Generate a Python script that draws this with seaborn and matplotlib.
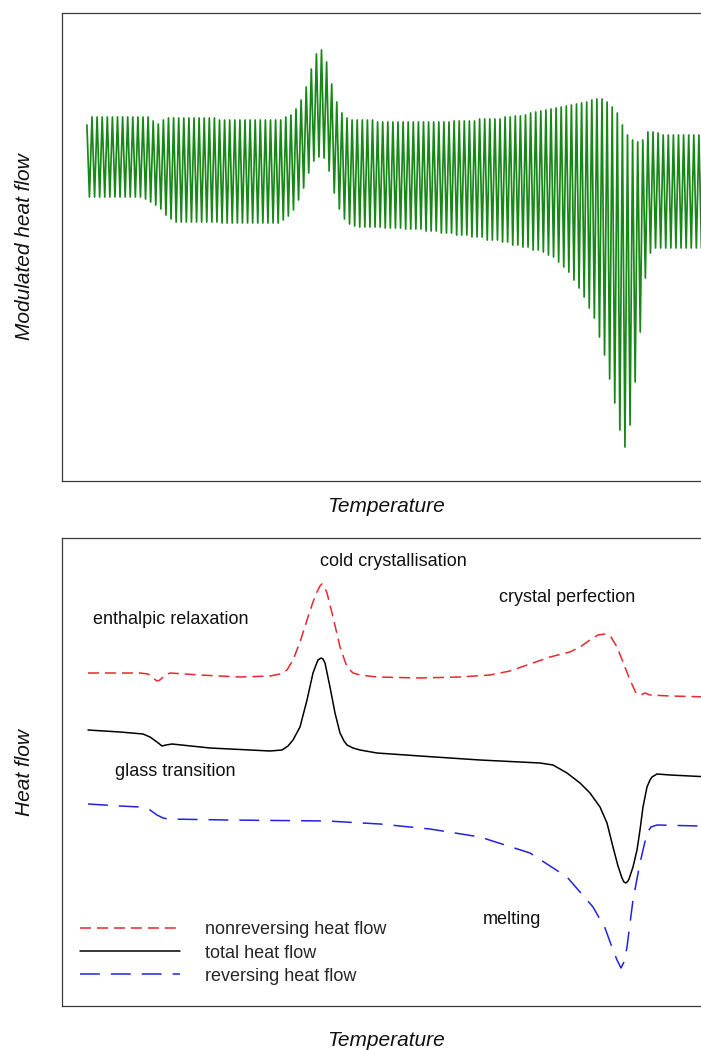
import numpy as np
import pandas as pd
import matplotlib
matplotlib.use("Agg")
import matplotlib.pyplot as plt
import seaborn as sns

# ---------------------------------------------------------------------------
# Modulated DSC signal: one peak and one trough value per modulation cycle
# (arbitrary heat-flow units), starting at T0 with a fixed modulation period.
# ---------------------------------------------------------------------------
T0 = 92.0          # temperature of the first modulation maximum
PERIOD = 5.1       # temperature advance per modulation cycle

lead_in_flow = [356, 284]  # partial first stroke before the first maximum

peak_flow = [
    364, 364, 364, 364, 364, 364, 364, 364, 364, 364, 364, 364,
    360, 357, 361,
    363, 363, 363, 363, 363, 363, 363, 363, 363, 363,
    361, 361, 361, 361, 361, 361, 361, 361, 361, 361, 361, 361, 361,
    364, 366, 372, 381, 394, 412, 427, 431, 419, 397, 379, 368, 363,
    361, 361, 361, 361, 361,
    359, 359, 359, 359, 359, 359, 359, 359, 359, 359, 359, 359, 359, 359, 359,
    360, 360, 360, 360, 360,
    362, 362, 362, 362, 362,
    364, 364, 365, 365, 366, 368, 369,
    370, 371, 372, 373, 374, 375, 376, 377, 378, 379, 381, 382,
    382, 379, 374, 368, 356, 346, 341, 339, 341, 349, 349, 348,
    346, 346, 346, 346, 346, 346, 346, 346,
]

trough_flow = [
    284, 284, 284, 284, 284, 284, 284, 284, 284, 284,
    282, 279, 276, 272, 266, 262,
    259, 259, 259, 259, 259, 259, 259, 259, 259,
    258, 258, 258, 258, 258, 258, 258, 258, 258, 258, 258, 258,
    261, 265, 271, 281, 293, 308, 320, 324, 323, 310, 288, 272, 262, 257, 255,
    254, 254, 254, 254, 254,
    253, 253, 253, 253,
    252, 252, 252, 252,
    250, 250, 250,
    248, 248, 248,
    246, 246, 246,
    244, 244, 244,
    241, 241, 241,
    239, 239,
    236, 236,
    234, 234,
    231, 231,
    229, 226, 224, 219, 214, 209, 201, 193, 184, 173, 163, 144,
    126, 102, 78, 51, 34, 56, 99, 149, 203, 228, 233,
    233, 233, 233, 233, 233, 233, 233, 233, 233,
]

# ---------------------------------------------------------------------------
# Deconvoluted signals (temperature, heat flow)
# ---------------------------------------------------------------------------
nonrev_T = [88, 120, 140, 148, 153, 157, 160, 164, 170, 200, 240, 270, 280,
            287, 293, 300, 308, 313, 317, 320, 322, 324, 327, 333, 340, 347,
            353, 360, 377, 420, 460, 490, 510, 530, 550, 570, 580, 590, 598,
            605, 611, 617, 623, 630, 636, 641, 645, 650, 670, 710]
nonrev_flow = [333, 333, 333, 332, 328, 325, 326, 330, 333, 331, 329, 330, 332,
               336, 346, 364, 389, 404, 414, 420, 422, 420, 413, 389, 359, 339,
               333, 331, 329, 328, 329, 331, 335, 342, 349, 354, 359, 366, 371,
               372, 369, 359, 344, 326, 313, 311, 313, 311, 310, 309]

total_T = [88, 120, 143, 150, 157, 162, 166, 172, 210, 250, 270, 282, 288,
           293, 300, 307, 313, 316, 318, 321, 323, 325, 330, 335, 340, 344,
           347, 353, 360, 377, 420, 480, 540, 553, 567, 580, 590, 600, 607,
           613, 618, 622, 624, 626, 628, 629, 633, 637, 640, 643, 647, 650,
           652, 657, 670, 710]
total_flow = [276, 274, 272, 269, 264, 260, 261, 262, 258, 256, 255, 256, 260,
              266, 279, 306, 333, 341, 346, 348, 347, 343, 319, 293, 273, 265,
              261, 258, 256, 253, 250, 246, 243, 241, 233, 223, 213, 199, 183,
              159, 140, 128, 124, 123, 125, 127, 139, 156, 176, 199, 219, 226,
              229, 232, 231, 229]

rev_T = [88, 120, 140, 150, 157, 163, 168, 227, 327, 380, 430, 480, 530, 567,
         593, 605, 613, 617, 621, 624, 627, 633, 640, 647, 651, 657, 700, 710]
rev_flow = [202, 200, 199, 196, 191, 188, 187, 186, 185, 182, 177, 169, 153, 129,
            99, 78, 56, 46, 38, 44, 59, 106, 143, 173, 179, 181, 180, 180]

series_labels = ["nonreversing heat flow", "total heat flow", "reversing heat flow"]

annotations = [
    ("enthalpic relaxation", 93, 386, "left"),
    ("cold crystallisation", 393, 445, "center"),
    ("crystal perfection", 567, 409, "center"),
    ("glass transition", 115, 234, "left"),
    ("melting", 512, 87, "center"),
]

# ---------------------------------------------------------------------------
sns.set_theme(style="white")
plt.rcParams["font.family"] = ["Liberation Sans", "DejaVu Sans"]

W, H = 701, 1050
fig = plt.figure(figsize=(W / 100, H / 100), dpi=100)
fig.patch.set_facecolor("white")

X_LO, X_HI = 62, 710
ax_top = fig.add_axes([X_LO / W, 1 - 481 / H, (X_HI - X_LO) / W, (481 - 12.5) / H])
ax_bot = fig.add_axes([X_LO / W, 1 - 1006 / H, (X_HI - X_LO) / W, (1006 - 537.5) / H])

for ax in (ax_top, ax_bot):
    ax.set_xlim(X_LO, X_HI)
    ax.set_ylim(0, 468.5)
    ax.set_xticks([])
    ax.set_yticks([])
    for sp in ax.spines.values():
        sp.set_color("#3a3a3a")
        sp.set_linewidth(0.9)
        sp.set_visible(True)

# --- top: modulated heat flow as alternating maxima / minima
n_cycles = len(peak_flow)
k = np.arange(n_cycles)
t_lead = [T0 - PERIOD, T0 - PERIOD / 2]
t_peak = T0 + PERIOD * k
t_trough = T0 + PERIOD * (k + 0.5)
t_mod = np.concatenate([t_lead, np.column_stack([t_peak, t_trough]).ravel()])
v_mod = np.concatenate([lead_in_flow, np.column_stack([peak_flow, trough_flow]).ravel()])
mod_df = pd.DataFrame({"Temperature": t_mod, "Modulated heat flow": v_mod})
sns.lineplot(data=mod_df, x="Temperature", y="Modulated heat flow", ax=ax_top,
             sort=False, estimator=None, color="#178817", linewidth=1.25)
ax_top.set_xlabel("")
ax_top.set_ylabel("")

# --- bottom: deconvoluted signals
LW = 1.1
sns.lineplot(x=nonrev_T, y=nonrev_flow, ax=ax_bot, sort=False, estimator=None,
             color="#e8282c", linewidth=LW, linestyle=(0, (7.2, 3.9)),
             label=series_labels[0])
sns.lineplot(x=total_T, y=total_flow, ax=ax_bot, sort=False, estimator=None,
             color="black", linewidth=LW, label=series_labels[1])
sns.lineplot(x=rev_T, y=rev_flow, ax=ax_bot, sort=False, estimator=None,
             color="#2222e0", linewidth=LW, linestyle=(0, (13, 7.2)),
             label=series_labels[2])
ax_bot.set_xlabel("")
ax_bot.set_ylabel("")

FS = 13
for text, x, y, ha in annotations:
    ax_bot.text(x, y, text, ha=ha, va="center", fontsize=FS, color="#111111")

ax_bot.legend(loc="center left", bbox_to_anchor=(0.017, 0.113), frameon=False,
              fontsize=FS, handlelength=5.5, handletextpad=1.4, labelspacing=0.34,
              borderaxespad=0.0, borderpad=0.4)

# axis titles
LFS = 15
fig.text(386 / W, 1 - 507 / H, "Temperature", ha="center", va="center",
         fontsize=LFS, style="italic", color="#111111")
fig.text(386 / W, 1 - 1040 / H, "Temperature", ha="center", va="center",
         fontsize=LFS, style="italic", color="#111111")
fig.text(25 / W, 1 - 247 / H, "Modulated heat flow", ha="center", va="center",
         rotation=90, fontsize=LFS, style="italic", color="#111111")
fig.text(25 / W, 1 - 772 / H, "Heat flow", ha="center", va="center",
         rotation=90, fontsize=LFS, style="italic", color="#111111")

fig.savefig("out.png", dpi=100, facecolor="white")
